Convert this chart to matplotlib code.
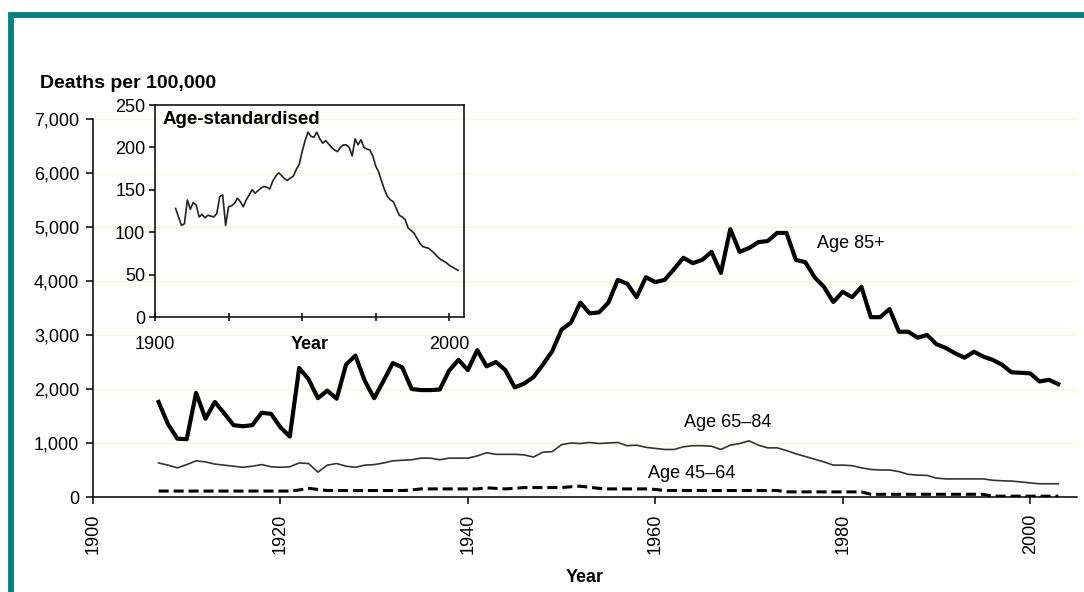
import numpy as np
import matplotlib
matplotlib.use('Agg')
import matplotlib.pyplot as plt
from matplotlib.patches import Rectangle
from matplotlib.ticker import FuncFormatter

plt.rcParams['font.family'] = ['Liberation Sans', 'DejaVu Sans']

""" Data read off the reference, one value per year 1907-2003 """
years = list(range(1907, 2004))

age85 = [1760, 1350, 1080,
         1070, 1930, 1450, 1760, 1550, 1330, 1310, 1330, 1560, 1540,
         1290, 1120, 2390, 2180, 1830, 1970, 1820, 2450, 2620, 2150,
         1830, 2150, 2480, 2400, 2000, 1980, 1980, 1990, 2340, 2540,
         2350, 2720, 2420, 2500, 2350, 2030, 2100, 2220, 2450, 2700,
         3100, 3230, 3600, 3400, 3420, 3600, 4020, 3950, 3700, 4070,
         3980, 4020, 4220, 4430, 4330, 4390, 4540, 4150, 4960, 4540,
         4610, 4720, 4740, 4890, 4890, 4390, 4350, 4070, 3890, 3610,
         3800, 3700, 3890, 3330, 3330, 3480, 3060, 3060, 2950, 3000,
         2830, 2760, 2660, 2580, 2690, 2600, 2540, 2450, 2310, 2300,
         2290, 2140, 2170, 2090]

age6584 = [630, 590, 540,
           600, 670, 650, 610, 590, 570, 550, 570, 600, 560,
           550, 560, 630, 620, 460, 590, 620, 570, 550, 590,
           600, 630, 670, 680, 690, 720, 720, 690, 720, 720,
           720, 760, 820, 790, 790, 790, 780, 740, 830, 840,
           970, 1000, 990, 1010, 990, 1000, 1010, 950, 960, 920,
           900, 880, 880, 930, 950, 950, 940, 880, 960, 990,
           1040, 960, 910, 910, 860, 800, 750, 700, 650, 590,
           590, 580, 540, 510, 500, 500, 470, 420, 405, 400,
           350, 335, 335, 335, 335, 335, 310, 300, 295, 280,
           260, 245, 245, 245]

age4564 = [110, 110, 110,
           110, 110, 110, 110, 110, 110, 110, 110, 110, 110,
           110, 110, 130, 160, 140, 120, 120, 120, 120, 120,
           120, 120, 120, 120, 130, 150, 150, 150, 150, 150,
           150, 150, 170, 160, 150, 160, 175, 175, 175, 175,
           175, 190, 200, 180, 160, 150, 150, 150, 150, 150,
           140, 120, 120, 120, 120, 120, 120, 120, 120, 120,
           120, 120, 120, 120, 95, 95, 95, 95, 95, 95,
           95, 95, 95, 50, 50, 50, 50, 50, 50, 50,
           50, 50, 50, 50, 50, 50, 15, 15, 15, 15,
           15, 15, 15, 15]

age_std = [128, 118, 108,
           110, 138, 127, 135, 132, 118, 121, 117, 120, 119,
           118, 122, 142, 144, 108, 130, 131, 134, 140, 136,
           130, 138, 144, 150, 146, 149, 152, 154, 153, 151,
           160, 166, 170, 167, 163, 161, 164, 166, 174, 180,
           195, 208, 218, 213, 212, 218, 210, 205, 208, 204,
           200, 197, 195, 200, 203, 203, 200, 190, 210, 203,
           209, 200, 198, 197, 190, 178, 171, 160, 150, 142,
           138, 136, 128, 120, 118, 115, 105, 102, 99, 93,
           87, 83, 82, 81, 78, 75, 71, 68, 66, 64,
           61, 59, 57, 55]

main_yticks = [0, 1000, 2000, 3000, 4000, 5000, 6000, 7000]
main_xticks = [1900, 1920, 1940, 1960, 1980, 2000]
inset_yticks = [0, 50, 100, 150, 200, 250]
inset_xticks = [1900, 1925, 1950, 1975, 2000]
inset_xlabels = ['1900', '', '', '', '2000']

fs = 13

fig = plt.figure(figsize=(10.84, 5.92), dpi=100)

# main chart
ax = fig.add_axes([93/1084, 95/592, 984/1084, 378/592])
ax.plot(years, age85, color='black', lw=3.0, solid_joinstyle='round', zorder=4)
ax.plot(years, age6584, color='#333333', lw=1.2, zorder=3)
ax.plot(years, age4564, color='black', lw=2.2, dashes=(3.3, 1.6), zorder=3)
ax.set_xlim(1900, 2005)
ax.set_ylim(0, 7000)
ax.set_yticks(main_yticks)
ax.yaxis.set_major_formatter(FuncFormatter(lambda v, p: '{:,.0f}'.format(v)))
ax.set_xticks(main_xticks)
ax.set_xticklabels([str(t) for t in main_xticks], rotation=90)
ax.tick_params(axis='both', direction='out', length=5, width=1.1, labelsize=fs, colors='black')
ax.tick_params(axis='x', pad=7)
ax.tick_params(axis='y', pad=5)
for s in ['top', 'right']:
    ax.spines[s].set_visible(False)
for s in ['left', 'bottom']:
    ax.spines[s].set_linewidth(1.1)
ax.yaxis.grid(True, color='#FFFFB3', lw=1.0)
ax.set_axisbelow(True)
ax.set_xlabel('Year', fontsize=fs, fontweight='bold', va='top')
ax.xaxis.set_label_coords(0.5, -0.19)

ax.text(1977.3, 4700, 'Age 85+', fontsize=fs, ha='left', va='center')
ax.text(1963.1, 1380, 'Age 65\u201384', fontsize=fs, ha='left', va='center')
ax.text(1959.2, 435, 'Age 45\u201364', fontsize=fs, ha='left', va='center')

fig.text(40/1084, 1 - 83/592, 'Deaths per 100,000', fontsize=fs + 1,
         fontweight='bold', ha='left', va='center')

# inset
ax2 = fig.add_axes([155/1084, 275/592, 309/1084, 212/592])
ax2.patch.set_alpha(0)
ax2.plot(years, age_std, color='#222222', lw=1.2)
ax2.set_xlim(1900, 2005)
ax2.set_ylim(0, 250)
ax2.set_yticks(inset_yticks)
ax2.set_xticks(inset_xticks)
ax2.set_xticklabels(inset_xlabels)
ax2.tick_params(axis='y', direction='out', length=4, width=1.1, pad=3, labelsize=fs)
ax2.tick_params(axis='x', direction='inout', length=6, width=1.1, pad=11, labelsize=fs)
for s in ax2.spines.values():
    s.set_linewidth(1.1)
ax2.set_xlabel('Year', fontsize=fs, fontweight='bold', va='center')
ax2.xaxis.set_label_coords(0.5, -0.13)
ax2.text(0.023, 0.93, 'Age-standardised', transform=ax2.transAxes,
         fontsize=fs + 0.5, fontweight='bold', ha='left', va='center')

# teal frame (only left and top edges fall inside the picture)
fig.patches.append(Rectangle((11/1084, -0.2), 2.0, 0.975 + 0.2, transform=fig.transFigure,
                             fill=False, edgecolor='#008080', lw=4.2, clip_on=False))

plt.savefig('out.png', dpi=100)
